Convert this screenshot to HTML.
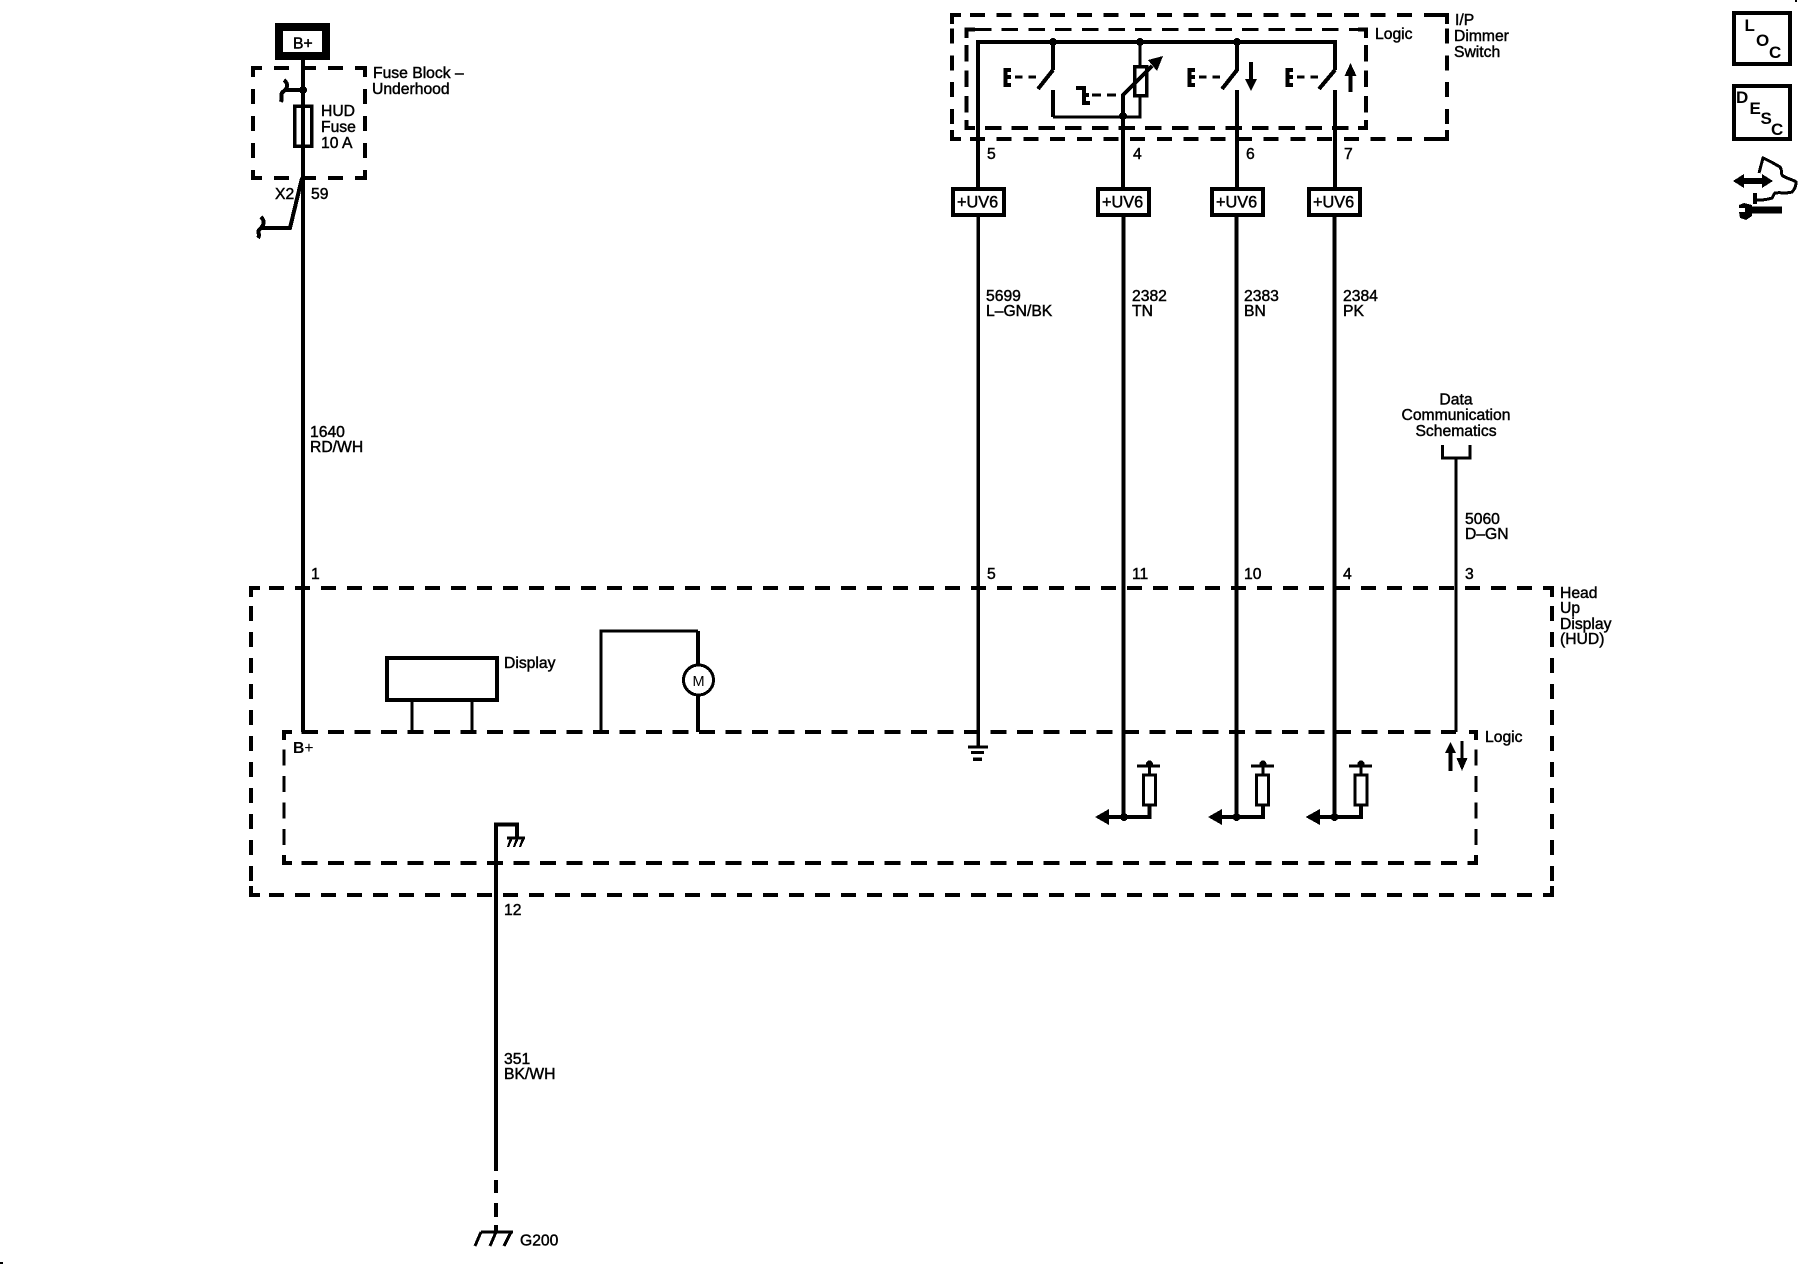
<!DOCTYPE html>
<html><head><meta charset="utf-8"><style>
html,body{margin:0;padding:0;background:#fff}
svg{display:block}
text{font-family:"Liberation Sans",sans-serif;font-size:15.7px;fill:#000;stroke:#000;stroke-width:.45}
.w{fill:none;stroke:#000;stroke-width:4}
.t{fill:none;stroke:#000;stroke-width:3}
.d{fill:none;stroke:#000;stroke-width:4;stroke-dasharray:15 11.7}
.c{fill:none;stroke:#000;stroke-width:4}
.s{fill:none;stroke:#000;stroke-width:3;stroke-dasharray:8 6}
.b{font-weight:bold;font-size:17px;stroke:none}
</style></head><body>
<svg width="1800" height="1280" viewBox="0 0 1800 1280" xmlns="http://www.w3.org/2000/svg" shape-rendering="crispEdges">
<rect width="1800" height="1280" fill="#fff"/>
<rect x="0" y="1262" width="3" height="2"/>
<rect x="1795" y="0" width="2" height="2"/>

<!-- B+ and fuse block -->
<rect x="279" y="27" width="47" height="29" fill="none" stroke="#000" stroke-width="8"/>
<text x="293" y="48.500">B+</text>
<path class="d" style="stroke-dasharray:15 12;stroke-dashoffset:6" d="M253 68H365M253 178H365M253 68V178M365 68V178"/>
<path class="c" d="M253 76V68H261M357 68H365V76M253 170V178H261M357 178H365V170"/>
<path class="w" d="M303 60V732"/>
<rect x="294.500" y="106" width="17" height="40" fill="none" stroke="#000" stroke-width="3.500"/>
<path class="w" d="M303 90H285"/>
<path class="c" d="M284 80C289 84 287 89 284 91C279 94 283 97 281 102"/>
<circle cx="303" cy="90" r="4"/>
<path class="w" d="M302 178L290 228H262"/>
<path class="c" d="M261 217C266 222 263 226 260 229C256 232 261 234 258 238"/>
<text x="321" y="116">HUD</text>
<text x="321" y="132">Fuse</text>
<text x="321" y="148">10 A</text>
<text x="373" y="78">Fuse Block –</text>
<text x="372" y="94">Underhood</text>
<text x="275" y="199">X2</text>
<text x="311" y="199">59</text>
<text x="310" y="437">1640</text>
<text x="310" y="452">RD/WH</text>
<text x="311" y="579">1</text>

<!-- I/P Dimmer Switch -->
<path class="d" style="stroke-dashoffset:8.700" d="M952 15H1447M952 139H1447"/>
<path class="d" style="stroke-dashoffset:13" d="M952 15V139M1447 15V139"/>
<path class="c" d="M952 24V15H961M1438 15H1447V24M952 130V139H961M1438 139H1447V130"/>
<path class="t" style="stroke-dasharray:16.500 10.200;stroke-dashoffset:18.200" d="M966.500 29.500H1366"/>
<path class="c" style="stroke-dasharray:16.500 10.200;stroke-dashoffset:8.200" d="M966.500 128H1366"/>
<path class="c" style="stroke-dasharray:16.500 9;stroke-dashoffset:10" d="M966.500 29.500V128M1366 29.500V128"/>
<path class="c" d="M966.500 38V29.500H975M1358 29.500H1366V38M966.500 120V128H975M1358 128H1366V120"/>
<path class="w" d="M978 187V42H1335V70"/>
<path class="w" d="M1053 42V70M1053 70L1038 89"/>
<path class="w" d="M1053 90V117"/>
<path class="t" d="M1053 117H1140V96"/>
<path class="t" d="M1140 42V67"/>
<rect x="1134.500" y="66.500" width="12" height="29" fill="none" stroke="#000" stroke-width="3.500"/>
<path class="w" d="M1123 187V95"/>
<path class="w" d="M1122 96L1152 66"/>
<path d="M1163 56L1148 60L1157 71Z"/>
<circle cx="1053" cy="42" r="4"/><circle cx="1140" cy="42" r="4"/><circle cx="1237" cy="42" r="4"/>
<circle cx="1123" cy="116" r="4"/>
<path class="w" d="M1237 42V70L1222 89M1237 90V187"/>
<path class="w" d="M1335 70L1319 89M1335 90V187"/>
<path class="c" d="M1011 70H1005.500V85H1011M1005 77H1011"/>
<path class="s" style="stroke-dasharray:7.500 6" d="M1015 77H1042"/>
<path class="c" d="M1076 88H1084V103H1090M1084 95H1089"/>
<path class="s" style="stroke-dasharray:9 6" d="M1092 95H1120"/>
<path class="c" d="M1195 70H1189.500V85H1195M1189 77H1195"/>
<path class="s" style="stroke-dasharray:7.500 6" d="M1199 77H1226"/>
<path class="c" d="M1293 70H1287.500V85H1293M1287 77H1293"/>
<path class="s" style="stroke-dasharray:7.500 6" d="M1297 77H1322"/>
<path class="c" d="M1251 62V82"/><path d="M1245 79H1257L1251 91Z"/>
<path class="c" d="M1350.500 92V72"/><path d="M1344.500 76H1356.500L1350.500 63Z"/>
<text x="1375" y="39">Logic</text>
<text x="1455" y="25">I/P</text>
<text x="1454" y="41">Dimmer</text>
<text x="1454" y="57">Switch</text>
<text x="987" y="159">5</text>
<text x="1133" y="159">4</text>
<text x="1246" y="159">6</text>
<text x="1344" y="159">7</text>

<!-- UV6 -->
<g fill="#fff" stroke="#000" stroke-width="4">
<rect x="953" y="189" width="51" height="26"/>
<rect x="1098" y="189" width="51" height="26"/>
<rect x="1212" y="189" width="51" height="26"/>
<rect x="1309" y="189" width="51" height="26"/>
</g>
<text x="957" y="207.500" style="font-size:16.300px">+UV6</text>
<text x="1102" y="207.500" style="font-size:16.300px">+UV6</text>
<text x="1216" y="207.500" style="font-size:16.300px">+UV6</text>
<text x="1313" y="207.500" style="font-size:16.300px">+UV6</text>

<!-- Long wires -->
<path class="w" d="M978 215V747" style="stroke-width:3.500"/>
<path class="w" d="M1123.500 215V817"/>
<path class="w" d="M1236.500 215V817"/>
<path class="w" d="M1334.500 215V817"/>
<path class="t" d="M1442.500 445V458H1470V445M1456 458V732"/>
<text x="986" y="301">5699</text>
<text x="986" y="316">L–GN/BK</text>
<text x="1132" y="301">2382</text>
<text x="1132" y="316">TN</text>
<text x="1244" y="301">2383</text>
<text x="1244" y="316">BN</text>
<text x="1343" y="301">2384</text>
<text x="1343" y="316">PK</text>
<text x="1456" y="404.500" text-anchor="middle">Data</text>
<text x="1456" y="420" text-anchor="middle">Communication</text>
<text x="1456" y="436" text-anchor="middle">Schematics</text>
<text x="1465" y="524">5060</text>
<text x="1465" y="539">D–GN</text>
<text x="987" y="579">5</text>
<text x="1132" y="579">11</text>
<text x="1244" y="579">10</text>
<text x="1343" y="579">4</text>
<text x="1465" y="579">3</text>

<!-- HUD outer -->
<path class="d" style="stroke-dasharray:15 11;stroke-dashoffset:8" d="M251 588H1552M251 895H1552M251 588V895M1552 588V895"/>
<path class="c" d="M251 597V588H260M1543 588H1552V597M251 886V895H260M1543 895H1552V886"/>
<text x="1560" y="598">Head</text>
<text x="1560" y="613">Up</text>
<text x="1560" y="629">Display</text>
<text x="1560" y="644">(HUD)</text>

<!-- Logic inner -->
<path class="c" style="stroke-dasharray:16 10.500;stroke-dashoffset:9" d="M284 732H1456M284 863H1476"/>
<path class="t" style="stroke-dasharray:16 10.500;stroke-dashoffset:9" d="M284 732V863M1476 732V863"/>
<path class="c" d="M284 740V732H292M1469 732H1476V740M284 855V863H292M1468 863H1476V855"/>
<text x="504" y="668">Display</text>
<rect x="387" y="658" width="110" height="42" fill="none" stroke="#000" stroke-width="4"/>
<path class="t" d="M412 701V732M472 701V732"/>
<path class="t" d="M601 732V631H698"/>
<path class="w" d="M698 631V665M698 695V732"/>
<circle cx="698.500" cy="680" r="15" fill="#fff" stroke="#000" stroke-width="3"/>
<text x="698.500" y="686" text-anchor="middle" style="stroke:none;font-size:14.500px">M</text>
<path class="w" d="M302.500 732H318"/>
<text x="293" y="753" style="font-weight:bold;stroke:none">B<tspan style="font-weight:normal">+</tspan></text>
<text x="1485" y="742">Logic</text>

<!-- Ground inside -->
<path d="M968 745.500H988V748.500H968ZM971 751H984V754H971ZM973 757.500H982V761H973Z"/>

<!-- Pull ups -->
<g>
<path class="w" d="M1109 817H1149.500V805"/>
<path d="M1095 817L1109 809V825Z"/>
<circle cx="1124" cy="817" r="4"/>
<rect x="1143.500" y="775" width="12" height="30" fill="none" stroke="#000" stroke-width="3"/>
<path class="t" d="M1149.500 775V765M1137 766H1160"/>
<circle cx="1149.500" cy="764" r="3.500"/>
</g>
<g>
<path class="w" d="M1222 817H1263V805"/>
<path d="M1208 817L1222 809V825Z"/>
<circle cx="1236.500" cy="817" r="4"/>
<rect x="1256.500" y="775" width="12" height="30" fill="none" stroke="#000" stroke-width="3"/>
<path class="t" d="M1263 775V765M1251 766H1274"/>
<circle cx="1263" cy="764" r="3.500"/>
</g>
<g>
<path class="w" d="M1319 817H1361V805"/>
<path d="M1305.500 817L1320 809V825Z"/>
<circle cx="1334.500" cy="817" r="4"/>
<rect x="1355" y="775" width="12" height="30" fill="none" stroke="#000" stroke-width="3"/>
<path class="t" d="M1361 775V765M1349 766H1372"/>
<circle cx="1361" cy="764" r="3.500"/>
</g>
<path class="w" d="M1450.500 771V752"/>
<path d="M1445 753H1456L1450.500 742Z"/>
<path class="t" d="M1462 741V760"/>
<path d="M1456.500 758H1467.500L1462 771Z"/>

<!-- Ground wire -->
<path class="w" d="M517 838V824.500H496V1171"/>
<path class="t" d="M507 838H525"/>
<path d="M510 838L507 847H509L513 838ZM516 838L513 847H515L519 838ZM522 838L519 847H521L525 838Z"/>
<path class="w" d="M496 1180V1193M496 1203V1217M496 1225V1231"/>
<text x="504" y="915">12</text>
<text x="504" y="1064">351</text>
<text x="504" y="1079">BK/WH</text>
<path class="t" d="M481 1232H513"/>
<path class="t" d="M481 1232L475 1246M496 1232L490 1246M511 1232L504 1246"/>
<text x="520" y="1245.500">G200</text>

<!-- Icons -->
<rect x="1734" y="13" width="56" height="51" fill="none" stroke="#000" stroke-width="4"/>
<rect x="1734" y="86" width="56" height="53" fill="none" stroke="#000" stroke-width="4"/>
<text class="b" x="1744.500" y="31">L</text>
<text class="b" x="1756" y="46">O</text>
<text class="b" x="1769" y="58">C</text>
<text class="b" x="1736" y="103">D</text>
<text class="b" x="1749.500" y="114">E</text>
<text class="b" x="1760.500" y="124">S</text>
<text class="b" x="1771" y="135">C</text>
<path d="M1733 181L1744 174V178H1762V174L1773 181L1762 188V184H1744V188Z"/>
<path class="t" d="M1759 173L1763 158C1770 161 1775 164 1780 167C1783 171 1780 174 1783 176C1788 179 1794 180 1796 182C1796 187 1794 190 1792 192C1786 194 1780 192 1775 193C1773 195 1773 197 1772 198C1766 200 1762 200 1755 200"/>
<path d="M1753 193H1757V204H1753Z"/>
<path d="M1750 206.500H1782V213.500H1750Z"/>
<path d="M1739 205L1744 203L1752 205V216L1746 220L1740 218L1739 212L1745 212L1745 208L1739 208Z"/>
</svg>
</body></html>
